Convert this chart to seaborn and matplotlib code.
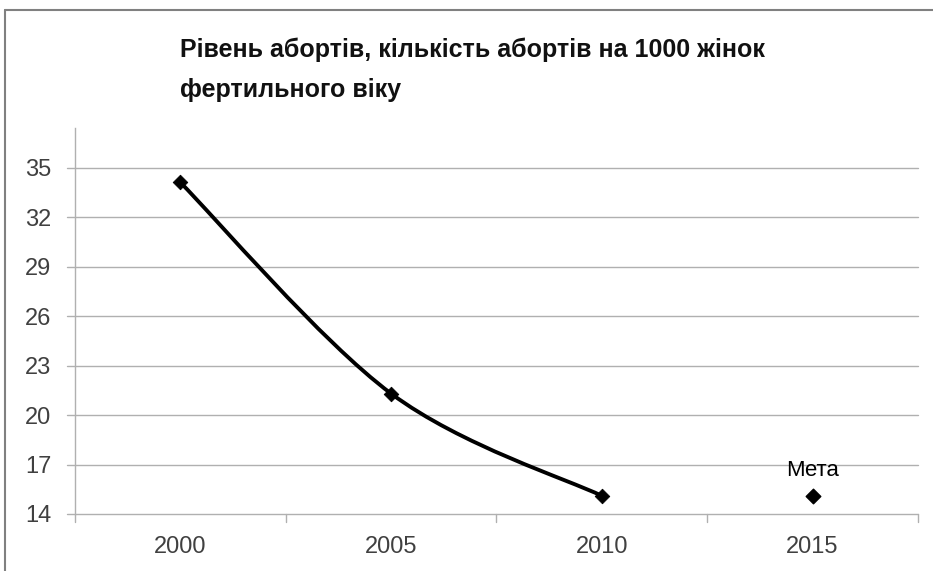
import numpy as np
import pandas as pd
import matplotlib
matplotlib.use('Agg')
import matplotlib.pyplot as plt
from matplotlib.path import Path
from matplotlib.patches import PathPatch
from matplotlib.lines import Line2D
import seaborn as sns

# дані з графіка
years = ['2000', '2005', '2010', '2015']
abortion_rate = [34.1, 21.3, 15.1]   # 2000-2010, факт
target_year = '2015'
target_value = 15.1
target_label = 'Мета'
y_ticks = [14, 17, 20, 23, 26, 29, 32, 35]
title_lines = ['Рівень абортів, кількість абортів на 1000 жінок', 'фертильного віку']

sns.set_style('white')
plt.rcParams['font.family'] = ['Liberation Sans', 'DejaVu Sans']

fig = plt.figure(figsize=(9.33, 5.71), dpi=100)
ax = fig.add_axes([75 / 933, 1 - 514 / 571, (918 - 75) / 933, (514 - 128) / 571])

df = pd.DataFrame({'year': years[:3], 'rate': abortion_rate})
pos = {y: i for i, y in enumerate(years)}
df['x'] = df['year'].map(pos)

# згладжена лінія (кубічні Безьє, як в Excel)
pts = df[['x', 'rate']].to_numpy(dtype=float)
verts = [tuple(pts[0])]
codes = [Path.MOVETO]
n = len(pts)
for i in range(n - 1):
    p0 = pts[max(i - 1, 0)]
    p1 = pts[i]
    p2 = pts[i + 1]
    p3 = pts[min(i + 2, n - 1)]
    c1 = p1 + (p2 - p0) / 6
    c2 = p2 - (p3 - p1) / 6
    verts += [tuple(c1), tuple(c2), tuple(p2)]
    codes += [Path.CURVE4] * 3
ax.add_patch(PathPatch(Path(verts, codes), fill=False, lw=2.8, color='black', zorder=3))

sns.scatterplot(data=df, x='x', y='rate', marker='D', s=55, color='black',
                edgecolor='black', ax=ax, zorder=4, legend=False)
ax.scatter([pos[target_year]], [target_value], marker='D', s=55, color='black', zorder=4)
ax.text(pos[target_year], target_value + 0.9, target_label, ha='center', va='bottom',
        fontsize=16, color='black')

ax.set_xlim(-0.5, 3.5)
ax.set_ylim(14, 37.4)
ax.set_yticks(y_ticks)
ax.set_yticklabels([str(t) for t in y_ticks], fontsize=17, color='#404040')
ax.set_xticks(range(len(years)))
ax.set_xticklabels(years, fontsize=17, color='#404040')
ax.tick_params(axis='x', length=0, pad=16)
ax.tick_params(axis='y', length=0, pad=17)
ax.set_xlabel('')
ax.set_ylabel('')

for t in y_ticks:
    ax.plot([-0.54, 3.5], [t, t], color='#b0b0b0', lw=1, zorder=1, clip_on=False)
for b in np.arange(-0.5, 3.6, 1.0):
    ax.plot([b, b], [14, 13.5], color='#b0b0b0', lw=1, zorder=1, clip_on=False)

for s in ['top', 'right', 'bottom']:
    ax.spines[s].set_visible(False)
ax.spines['left'].set_color('#b0b0b0')
ax.spines['left'].set_linewidth(1)

fig.text(180 / 933, 1 - 50 / 571, title_lines[0], ha='left', va='center', fontsize=18,
         fontweight='bold', color='#111111')
fig.text(180 / 933, 1 - 90 / 571, title_lines[1], ha='left', va='center', fontsize=18,
         fontweight='bold', color='#111111')

# рамка діаграми
fig.add_artist(Line2D([5 / 933, 1], [1 - 10 / 571, 1 - 10 / 571], color='#808080', lw=1.5))
fig.add_artist(Line2D([5 / 933, 5 / 933], [0, 1 - 10 / 571], color='#808080', lw=1.5))

fig.savefig('out.png', dpi=100)
